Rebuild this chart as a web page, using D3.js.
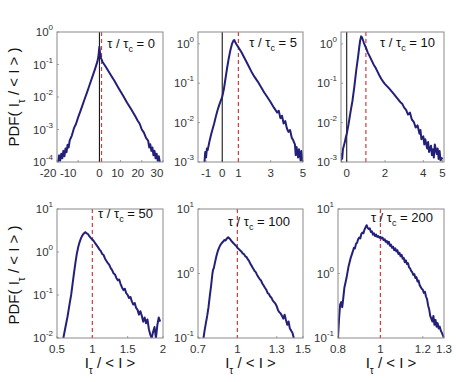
<!DOCTYPE html>
<html lang="en">
<head>
<meta charset="utf-8">
<title>PDF panels</title>
<script src="https://cdn.jsdelivr.net/npm/d3@7"></script>
<style>
  body { margin: 0; background: #fff; }
  svg { display: block; font-family: "Liberation Sans", Arial, sans-serif; }
  .tick-label { font-size: 11.5px; fill: #333; }
  .title { font-size: 13px; fill: #111; }
  .axis-title { font-size: 15px; fill: #111; }
</style>
</head>
<body>
<svg id="chart" width="456" height="382"></svg>
<script>
// tau / tau_c for each panel
const taus = [0, 5, 10, 50, 100, 200];
const xDomains = [[-20, 30], [-1.5, 5], [-0.3, 5.08], [0.5, 2], [0.7, 1.5], [0.8, 1.3]];
const yDomains = [[1e-4, 1], [1e-3, 2], [1e-3, 2], [1e-2, 10], [1e-1, 10], [1e-1, 10]];
const xTicks = [[-20, -10, 0, 10, 20, 30], [-1, 0, 1, 3, 5], [0, 2, 4, 5], [0.5, 1, 1.5, 2], [0.7, 1, 1.3, 1.5], [0.8, 1, 1.2, 1.3]];
const yTickExps = [[0, -1, -2, -3, -4], [0, -1, -2, -3], [0, -1, -2, -3], [1, 0, -1, -2], [1, 0, -1], [1, 0, -1]];
const hasZeroLine = [true, true, true, false, false, false];

// PDF curves, [I_tau/<I>, pdf]
const pdf0 = [[-19.5,1.0e-4],[-19,1.6e-4],[-18.5,1.1e-4],[-18,1.8e-4],[-17.5,1.3e-4],[-17,2.2e-4],[-16.5,1.5e-4],[-16,2.6e-4],[-15.5,2.0e-4],[-15,3.4e-4],[-14.5,2.8e-4],[-14,4.6e-4],[-13,6.5e-4],[-12,1.1e-3],[-11,1.5e-3],[-10,2.4e-3],[-9,3.6e-3],[-8,5.5e-3],[-7,8.5e-3],[-6,1.3e-2],[-5,2.0e-2],[-4,3.1e-2],[-3,4.8e-2],[-2,7.5e-2],[-1,0.12],[-0.5,0.17],[0,0.35],[0.3,0.22],[0.7,0.16],[1.5,0.12],[3,0.085],[5,0.052],[7,0.032],[9,0.019],[11,0.0115],[13,0.0068],[15,0.0042],[17,0.0025],[18,0.0019],[19,0.0015],[20,0.0010],[21,8e-4],[22,5.5e-4],[23,4.5e-4],[23.5,2.8e-4],[24,3.5e-4],[24.5,2.2e-4],[25,2.8e-4],[25.5,1.6e-4],[26,2.2e-4],[26.5,1.3e-4],[27,1.8e-4],[27.5,1.1e-4],[28,1.5e-4],[28.5,1.0e-4]];
const pdf5 = [[-1.1,1.0e-3],[-1.05,1.8e-3],[-1.0,1.3e-3],[-0.95,2.2e-3],[-0.9,2.0e-3],[-0.8,3.2e-3],[-0.7,4.8e-3],[-0.6,6.8e-3],[-0.5,9.5e-3],[-0.4,0.014],[-0.3,0.02],[-0.2,0.027],[-0.1,0.035],[0,0.045],[0.1,0.07],[0.2,0.13],[0.3,0.24],[0.4,0.42],[0.5,0.68],[0.6,0.98],[0.7,1.22],[0.75,1.25],[0.8,1.12],[0.9,0.95],[1.0,0.82],[1.2,0.6],[1.4,0.42],[1.6,0.29],[1.8,0.2],[2.0,0.145],[2.2,0.11],[2.4,0.08],[2.6,0.058],[2.8,0.044],[3.0,0.033],[3.2,0.024],[3.4,0.018],[3.5,0.02],[3.6,0.013],[3.7,0.015],[3.8,0.0095],[3.9,0.011],[4.0,0.0072],[4.1,0.0058],[4.2,0.0065],[4.3,0.0042],[4.4,0.0035],[4.5,0.0028],[4.55,0.0015],[4.6,0.0024],[4.7,0.0013],[4.75,0.0021],[4.8,0.0016],[4.85,0.0011],[4.9,0.0019],[4.95,0.0012],[5.0,0.001]];
const pdf10 = [[-0.32,0.001],[-0.28,0.0016],[-0.24,0.0012],[-0.2,0.0021],[-0.15,0.0026],[-0.1,0.0032],[-0.05,0.0042],[0,0.0052],[0.1,0.0095],[0.2,0.019],[0.3,0.036],[0.4,0.085],[0.5,0.22],[0.6,0.5],[0.65,0.8],[0.7,1.2],[0.75,1.55],[0.8,1.45],[0.9,1.05],[1.0,0.8],[1.1,0.6],[1.2,0.48],[1.3,0.38],[1.4,0.3],[1.5,0.25],[1.6,0.2],[1.7,0.16],[1.8,0.13],[1.9,0.11],[2.0,0.095],[2.2,0.075],[2.4,0.058],[2.6,0.044],[2.8,0.033],[2.9,0.03],[3.0,0.024],[3.1,0.021],[3.2,0.016],[3.3,0.018],[3.4,0.012],[3.5,0.0105],[3.6,0.0075],[3.7,0.0085],[3.8,0.0052],[3.85,0.0065],[3.9,0.0038],[4.0,0.0045],[4.05,0.0028],[4.1,0.0038],[4.2,0.0022],[4.25,0.0032],[4.3,0.0018],[4.4,0.0026],[4.45,0.0015],[4.5,0.0021],[4.55,0.0013],[4.6,0.0028],[4.7,0.0016],[4.75,0.0022],[4.8,0.0012],[4.85,0.0019],[4.9,0.0011],[5.0,0.0013]];
const pdf50 = [[0.59,0.01],[0.62,0.018],[0.65,0.032],[0.68,0.065],[0.7,0.1],[0.72,0.18],[0.74,0.32],[0.76,0.55],[0.78,0.9],[0.8,1.3],[0.82,1.7],[0.84,2.1],[0.86,2.45],[0.88,2.7],[0.9,2.9],[0.92,2.7],[0.94,2.6],[0.96,2.3],[0.98,2.1],[1.0,1.95],[1.02,1.8],[1.04,1.6],[1.06,1.45],[1.08,1.3],[1.1,1.15],[1.12,1.05],[1.14,0.9],[1.16,0.85],[1.18,0.7],[1.2,0.62],[1.22,0.55],[1.24,0.5],[1.26,0.42],[1.28,0.38],[1.3,0.32],[1.32,0.3],[1.34,0.25],[1.36,0.22],[1.38,0.23],[1.4,0.18],[1.42,0.15],[1.44,0.13],[1.46,0.14],[1.48,0.11],[1.5,0.1],[1.52,0.085],[1.54,0.09],[1.56,0.07],[1.58,0.06],[1.6,0.065],[1.62,0.05],[1.64,0.045],[1.66,0.035],[1.68,0.042],[1.7,0.033],[1.72,0.024],[1.74,0.03],[1.76,0.022],[1.78,0.027],[1.8,0.016],[1.82,0.012],[1.84,0.01],[1.86,0.014],[1.88,0.018],[1.9,0.01],[1.92,0.02],[1.94,0.03],[1.96,0.024]];
const pdf100 = [[0.742,0.1],[0.75,0.13],[0.76,0.17],[0.77,0.22],[0.78,0.3],[0.79,0.45],[0.8,0.65],[0.81,1.0],[0.815,1.15],[0.82,1.2],[0.83,1.5],[0.84,1.85],[0.85,2.2],[0.86,2.5],[0.87,2.75],[0.88,2.95],[0.89,3.1],[0.9,3.3],[0.91,3.25],[0.92,3.5],[0.93,3.65],[0.94,3.5],[0.95,3.3],[0.96,3.1],[0.97,2.95],[0.98,2.8],[0.99,2.7],[1.0,2.5],[1.01,2.4],[1.02,2.3],[1.03,2.2],[1.04,2.05],[1.05,2.0],[1.06,1.85],[1.07,1.8],[1.08,1.65],[1.09,1.55],[1.1,1.4],[1.11,1.3],[1.12,1.2],[1.13,1.1],[1.14,1.05],[1.15,0.95],[1.16,0.88],[1.17,0.82],[1.18,0.78],[1.19,0.7],[1.2,0.65],[1.21,0.6],[1.22,0.56],[1.23,0.5],[1.24,0.48],[1.25,0.44],[1.26,0.42],[1.27,0.38],[1.28,0.36],[1.29,0.34],[1.3,0.31],[1.31,0.27],[1.32,0.25],[1.33,0.24],[1.34,0.22],[1.35,0.2],[1.36,0.23],[1.37,0.19],[1.38,0.16],[1.39,0.18],[1.4,0.14],[1.41,0.13],[1.42,0.12],[1.43,0.1]];
const pdf200 = [[0.8,0.1],[0.805,0.2],[0.81,0.33],[0.815,0.36],[0.82,0.3],[0.825,0.42],[0.83,0.6],[0.84,0.85],[0.85,1.3],[0.86,1.75],[0.87,2.2],[0.875,2.5],[0.88,2.45],[0.885,2.9],[0.89,3.0],[0.895,3.4],[0.9,3.6],[0.905,3.5],[0.91,4.1],[0.915,4.3],[0.92,4.2],[0.925,4.8],[0.93,5.2],[0.935,5.6],[0.94,5.1],[0.945,4.9],[0.95,5.0],[0.955,4.4],[0.96,4.5],[0.965,4.0],[0.97,4.2],[0.975,3.8],[0.98,4.0],[0.985,3.7],[0.99,3.8],[0.995,3.6],[1.0,3.7],[1.005,3.5],[1.01,3.6],[1.015,3.3],[1.02,3.4],[1.025,3.1],[1.03,3.2],[1.035,2.9],[1.04,3.1],[1.045,2.7],[1.05,2.8],[1.055,2.5],[1.06,2.6],[1.065,2.3],[1.07,2.45],[1.075,2.2],[1.08,2.3],[1.085,2.0],[1.09,2.1],[1.095,1.85],[1.1,1.95],[1.105,1.7],[1.11,1.75],[1.115,1.5],[1.12,1.6],[1.125,1.4],[1.13,1.45],[1.135,1.25],[1.14,1.2],[1.145,1.1],[1.15,1.05],[1.155,0.95],[1.16,0.98],[1.165,0.85],[1.17,0.88],[1.175,0.75],[1.18,0.78],[1.185,0.66],[1.19,0.62],[1.195,0.58],[1.2,0.56],[1.205,0.5],[1.21,0.52],[1.215,0.44],[1.22,0.4],[1.225,0.32],[1.23,0.28],[1.235,0.22],[1.24,0.2],[1.245,0.18],[1.25,0.22],[1.255,0.16],[1.26,0.19],[1.265,0.15],[1.27,0.17],[1.275,0.14],[1.28,0.15],[1.285,0.13],[1.29,0.12],[1.295,0.11],[1.3,0.1]];
const series = [pdf0, pdf5, pdf10, pdf50, pdf100, pdf200];

// panel boxes (pixels)
const boxes = [
  {x: 57, y: 32, w: 106, h: 130}, {x: 198, y: 32, w: 105, h: 130}, {x: 341, y: 32, w: 103, h: 130},
  {x: 57, y: 209, w: 106, h: 129}, {x: 198, y: 209, w: 105, h: 129}, {x: 338, y: 209, w: 106, h: 129}
];
// title placement: distance from right edge, baseline from top
const titlePos = [[8, 16], [6, 15], [9, 15], [10, 9], [13, 17], [11, 13]];
// first panel's tick labels sit a little left of their ticks in the original
const labelShift = [[-9, -10, 0, -3, -4, -6], [], [], [], [], []];

const svg = d3.select("#chart");
const navy = "#23207a";

boxes.forEach(function(b, i) {
  const x = d3.scaleLinear().domain(xDomains[i]).range([b.x, b.x + b.w]);
  const y = d3.scaleLog().domain(yDomains[i]).range([b.y + b.h, b.y]);
  const g = svg.append("g");

  g.append("clipPath").attr("id", "clip" + i)
    .append("rect").attr("x", b.x).attr("y", b.y).attr("width", b.w).attr("height", b.h);

  // small inward ticks
  g.selectAll(".xt").data(xTicks[i]).enter().append("line")
    .attr("x1", d => x(d)).attr("x2", d => x(d))
    .attr("y1", b.y + b.h).attr("y2", b.y + b.h - 2)
    .attr("stroke", "#888").attr("stroke-width", 0.8);
  g.selectAll(".yt").data(yTickExps[i]).enter().append("line")
    .attr("x1", b.x).attr("x2", b.x + 2)
    .attr("y1", d => y(Math.pow(10, d))).attr("y2", d => y(Math.pow(10, d)))
    .attr("stroke", "#888").attr("stroke-width", 0.8);

  if (hasZeroLine[i]) {
    g.append("line").attr("x1", x(0)).attr("x2", x(0))
      .attr("y1", b.y).attr("y2", b.y + b.h)
      .attr("stroke", "#000").attr("stroke-width", 1);
  }
  g.append("line").attr("x1", x(1)).attr("x2", x(1))
    .attr("y1", b.y).attr("y2", b.y + b.h)
    .attr("stroke", "#d23c3c").attr("stroke-width", 1.2)
    .attr("stroke-dasharray", "4,3");

  const line = d3.line().x(d => x(d[0])).y(d => y(d[1]));
  g.append("path").datum(series[i])
    .attr("clip-path", "url(#clip" + i + ")")
    .attr("d", line)
    .attr("fill", "none").attr("stroke", navy)
    .attr("stroke-width", 2).attr("stroke-linejoin", "round");

  g.append("rect").attr("x", b.x).attr("y", b.y).attr("width", b.w).attr("height", b.h)
    .attr("fill", "none").attr("stroke", "#8a8a8a").attr("stroke-width", 1);

  // x tick labels
  g.selectAll(".xl").data(xTicks[i]).enter().append("text")
    .attr("class", "tick-label")
    .attr("x", (d, k) => x(d) + (labelShift[i][k] || 0)).attr("y", b.y + b.h + 15)
    .attr("text-anchor", "middle")
    .text(d => d < 0 ? "-" + Math.abs(d) : d);

  // y tick labels 10^n
  const yl = g.selectAll(".yl").data(yTickExps[i]).enter().append("text")
    .attr("class", "tick-label")
    .attr("x", b.x - 4).attr("y", d => y(Math.pow(10, d)) + 4)
    .attr("text-anchor", "end");
  yl.append("tspan").text("10");
  yl.append("tspan").attr("dy", -6).attr("font-size", 8).text(d => d < 0 ? "-" + Math.abs(d) : d);

  // panel title
  const t = g.append("text").attr("class", "title")
    .attr("x", b.x + b.w - titlePos[i][0]).attr("y", b.y + titlePos[i][1])
    .attr("text-anchor", "end");
  t.append("tspan").text("\u03c4 / \u03c4");
  t.append("tspan").attr("dy", 4).attr("font-size", 9).text("c");
  t.append("tspan").attr("dy", -4).text(" = " + taus[i]);

  // x axis title on bottom row
  if (i >= 3) {
    const xt = g.append("text").attr("class", "axis-title")
      .attr("x", b.x + b.w / 2).attr("y", 368).attr("text-anchor", "middle");
    xt.append("tspan").text("I");
    xt.append("tspan").attr("dy", 6).attr("font-size", 10).text("\u03c4");
    xt.append("tspan").attr("dy", -6).text(" / < I >");
  }
});

// y axis titles
[97, 275].forEach(function(cy) {
  const yt = svg.append("text").attr("class", "axis-title")
    .attr("transform", "translate(19," + cy + ") rotate(-90)")
    .attr("text-anchor", "middle");
  yt.append("tspan").text("PDF( I");
  yt.append("tspan").attr("dy", 6).attr("font-size", 10).text("\u03c4");
  yt.append("tspan").attr("dy", -6).text(" / < I > )");
});
</script>
</body>
</html>
